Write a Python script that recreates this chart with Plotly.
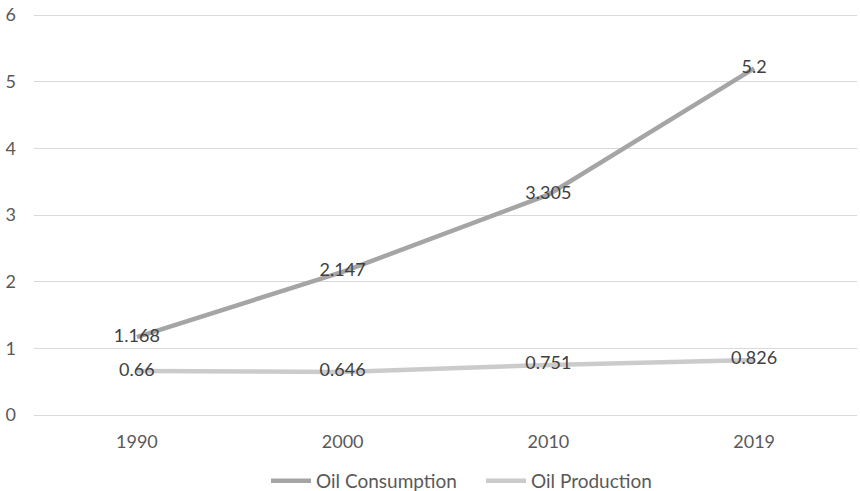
import plotly.graph_objects as go

years = ["1990", "2000", "2010", "2019"]
consumption = [1.168, 2.147, 3.305, 5.2]
production = [0.66, 0.646, 0.751, 0.826]
cons_labels = ["1.168", "2.147", "3.305", "5.2"]
prod_labels = ["0.66", "0.646", "0.751", "0.826"]

FONT = "Lato, 'Open Sans', sans-serif"
fig = go.Figure()
fig.add_trace(go.Scatter(
    x=years, y=consumption, mode="lines+text", name="Oil Consumption",
    text=cons_labels, textposition="middle center",
    textfont=dict(color="#404040", size=18, family=FONT),
    line=dict(color="#A5A5A5", width=4.5),
))
fig.add_trace(go.Scatter(
    x=years, y=production, mode="lines+text", name="Oil Production",
    text=prod_labels, textposition="middle center",
    textfont=dict(color="#404040", size=18, family=FONT),
    line=dict(color="#CBCBCB", width=4.5),
))
fig.update_layout(
    width=860, height=491,
    margin=dict(l=34, r=3, t=13, b=74, autoexpand=False),
    paper_bgcolor="white", plot_bgcolor="white",
    font=dict(family=FONT, color="#595959", size=18),
    showlegend=True,
    legend=dict(orientation="h", x=266 / 860, xanchor="left", xref="container",
                y=10 / 491, yanchor="middle", yref="container", entrywidth=160,
                font=dict(size=19, color="#595959"), itemwidth=40),
    xaxis=dict(type="category", range=[-0.5, 3.5], showgrid=False, showline=False,
               zeroline=False, ticks="", ticklabelstandoff=12,
               tickfont=dict(size=18, color="#595959")),
    yaxis=dict(range=[-0.03, 6.03], tickvals=[0, 1, 2, 3, 4, 5, 6], showgrid=True,
               gridcolor="#D9D9D9", gridwidth=1,
               zeroline=False, showline=False, ticks="", ticklabelstandoff=17,
               tickfont=dict(size=18, color="#595959")),
)
fig.write_html("out.html")
